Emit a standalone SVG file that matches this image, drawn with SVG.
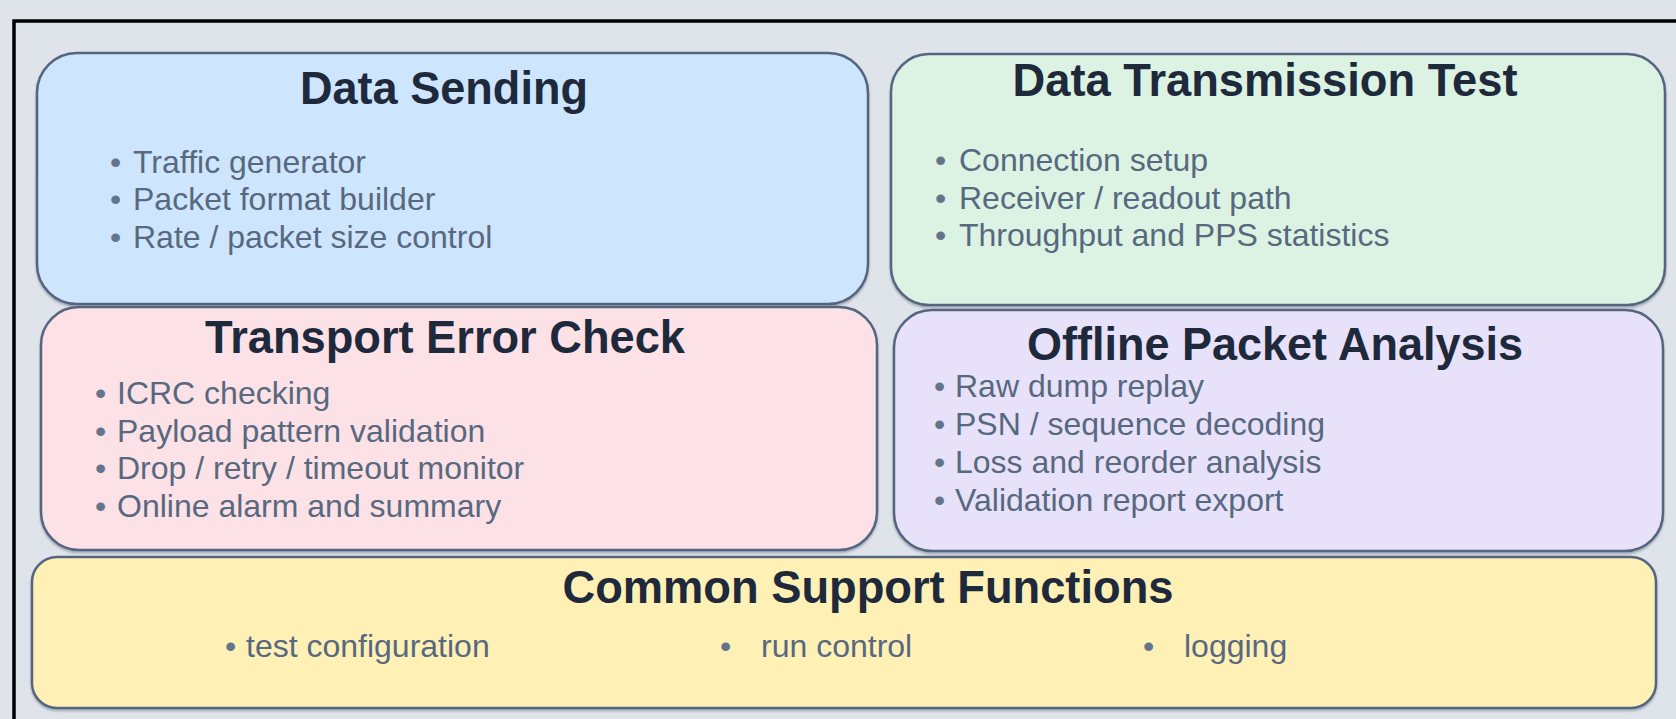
<svg xmlns="http://www.w3.org/2000/svg" width="1676" height="719" viewBox="0 0 1676 719">
  <defs>
    <filter id="shadow" x="-5%" y="-5%" width="110%" height="115%">
      <feDropShadow dx="0" dy="2" stdDeviation="1.2" flood-color="#334155" flood-opacity="0.35"/>
    </filter>
  </defs>
  <style>
    .box { stroke: #556580; stroke-width: 2.5; filter: url(#shadow); }
    .title { font-family: "Liberation Sans", Arial, sans-serif; font-weight: bold; font-size: 46px; fill: #1e293b; text-anchor: middle; }
    .item { font-family: "Liberation Sans", Arial, sans-serif; font-size: 32px; fill: #58687f; }
    .dot { fill: #64748b; }
  </style>

  <!-- page background and outer frame -->
  <rect x="0" y="0" width="1676" height="719" fill="#dfe3ea"/>
  <rect x="14" y="21" width="1700" height="760" fill="#dfe3ea" stroke="#000" stroke-width="3.5"/>

  <g id="data-sending">
    <rect class="box" x="37" y="53" width="831" height="251" rx="40" fill="#cde6fd"/>
    <text class="title" x="444" y="104" textLength="288" lengthAdjust="spacingAndGlyphs">Data Sending</text>
    <text class="item"><tspan class="dot" x="110" y="173">•</tspan><tspan x="133">Traffic generator</tspan></text>
    <text class="item"><tspan class="dot" x="110" y="210">•</tspan><tspan x="133">Packet format builder</tspan></text>
    <text class="item"><tspan class="dot" x="110" y="248">•</tspan><tspan x="133">Rate / packet size control</tspan></text>
  </g>

  <g id="data-transmission-test">
    <rect class="box" x="891" y="54" width="774" height="251" rx="38" fill="#dcf3e3"/>
    <text class="title" x="1265" y="96" textLength="505" lengthAdjust="spacingAndGlyphs">Data Transmission Test</text>
    <text class="item"><tspan class="dot" x="935" y="171">•</tspan><tspan x="959">Connection setup</tspan></text>
    <text class="item"><tspan class="dot" x="935" y="209">•</tspan><tspan x="959">Receiver / readout path</tspan></text>
    <text class="item"><tspan class="dot" x="935" y="246">•</tspan><tspan x="959">Throughput and PPS statistics</tspan></text>
  </g>

  <g id="transport-error-check">
    <rect class="box" x="41" y="307" width="836" height="243" rx="38" fill="#fce2e6"/>
    <text class="title" x="445" y="353" textLength="480" lengthAdjust="spacingAndGlyphs">Transport Error Check</text>
    <text class="item"><tspan class="dot" x="95" y="404">•</tspan><tspan x="117">ICRC checking</tspan></text>
    <text class="item"><tspan class="dot" x="95" y="442">•</tspan><tspan x="117">Payload pattern validation</tspan></text>
    <text class="item"><tspan class="dot" x="95" y="479">•</tspan><tspan x="117">Drop / retry / timeout monitor</tspan></text>
    <text class="item"><tspan class="dot" x="95" y="517">•</tspan><tspan x="117">Online alarm and summary</tspan></text>
  </g>

  <g id="offline-packet-analysis">
    <rect class="box" x="894" y="310" width="769" height="241" rx="38" fill="#e7e2f9"/>
    <text class="title" x="1275" y="360" textLength="496" lengthAdjust="spacingAndGlyphs">Offline Packet Analysis</text>
    <text class="item"><tspan class="dot" x="934" y="397">•</tspan><tspan x="955">Raw dump replay</tspan></text>
    <text class="item"><tspan class="dot" x="934" y="435">•</tspan><tspan x="955">PSN / sequence decoding</tspan></text>
    <text class="item"><tspan class="dot" x="934" y="473">•</tspan><tspan x="955">Loss and reorder analysis</tspan></text>
    <text class="item"><tspan class="dot" x="934" y="511">•</tspan><tspan x="955">Validation report export</tspan></text>
  </g>

  <g id="common-support-functions">
    <rect class="box" x="32" y="557" width="1624" height="151" rx="25" fill="#fff0b6"/>
    <text class="title" x="868" y="603" textLength="611" lengthAdjust="spacingAndGlyphs">Common Support Functions</text>
    <text class="item"><tspan class="dot" x="225" y="657">•</tspan><tspan x="246">test configuration</tspan></text>
    <text class="item"><tspan class="dot" x="720" y="657">•</tspan><tspan x="761">run control</tspan></text>
    <text class="item"><tspan class="dot" x="1143" y="657">•</tspan><tspan x="1184">logging</tspan></text>
  </g>

  <g id="connectors"/>
</svg>
